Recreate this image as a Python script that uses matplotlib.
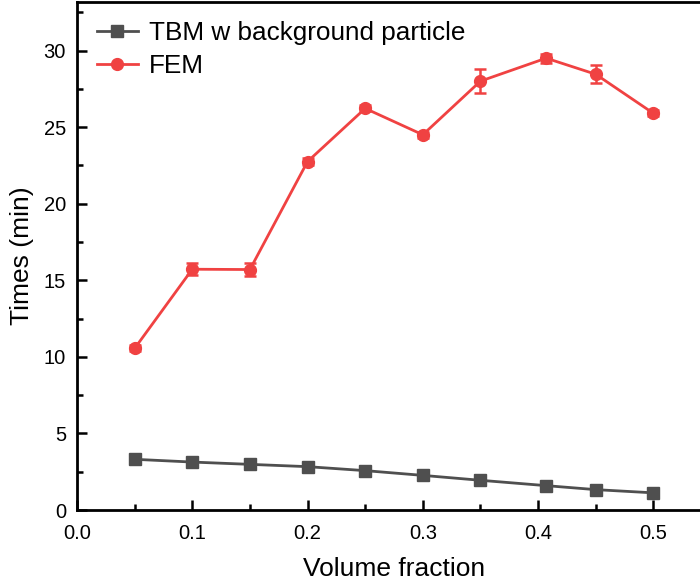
import matplotlib
matplotlib.use("Agg")
import matplotlib.pyplot as plt
from matplotlib.ticker import MultipleLocator, FormatStrFormatter

plt.rcParams["font.family"] = ["Liberation Sans", "DejaVu Sans"]

# data
VF = [0.05, 0.10, 0.15, 0.20, 0.25, 0.30, 0.35, 0.407, 0.45, 0.50]
TBM = [3.31, 3.13, 2.98, 2.83, 2.57, 2.26, 1.94, 1.59, 1.33, 1.12]
FEM = [10.55, 15.72, 15.70, 22.75, 26.22, 24.50, 28.00, 29.50, 28.45, 25.90]
FEM_ERR = [0.20, 0.40, 0.40, 0.20, 0.20, 0.20, 0.80, 0.30, 0.60, 0.20]

GRAY = "#4f4f4f"
RED = "#f04242"

fig = plt.figure(figsize=(7.0, 5.87), dpi=100)
ax = fig.add_axes([77 / 700, 77 / 587, (711 - 77) / 700, (585.5 - 77) / 587])

ax.plot(VF, TBM, color=GRAY, lw=2, marker="s", ms=8,
        label="TBM w background particle")
ax.errorbar(VF, FEM, yerr=FEM_ERR, color=RED, lw=0, marker=None,
            capsize=4, capthick=1.8, elinewidth=1.8)
ax.plot(VF, FEM, color=RED, lw=2, marker="o", ms=8.5, label="FEM")

ax.set_xlim(0, 0.55)
ax.set_ylim(0, 33.2)
ax.xaxis.set_major_locator(MultipleLocator(0.1))
ax.xaxis.set_minor_locator(MultipleLocator(0.05))
ax.yaxis.set_major_locator(MultipleLocator(5))
ax.yaxis.set_minor_locator(MultipleLocator(2.5))
ax.xaxis.set_major_formatter(FormatStrFormatter("%.1f"))

ax.tick_params(which="both", direction="in", width=1.8, labelsize=14.5)
ax.tick_params(axis="x", pad=10)
ax.tick_params(axis="y", pad=8)
ax.tick_params(which="major", length=7)
ax.tick_params(which="minor", length=4)
for s in ax.spines.values():
    s.set_linewidth(2)

ax.set_xlabel("Volume fraction", fontsize=19, labelpad=10)
ax.set_ylabel("Times (min)", fontsize=19, labelpad=7)

ax.legend(loc="upper left", fontsize=18.8, frameon=False, handlelength=1.6,
          handletextpad=0.4, borderaxespad=0.35, labelspacing=0.35,
          bbox_to_anchor=(0.0, 1.0))

fig.savefig("out.png", dpi=100)
